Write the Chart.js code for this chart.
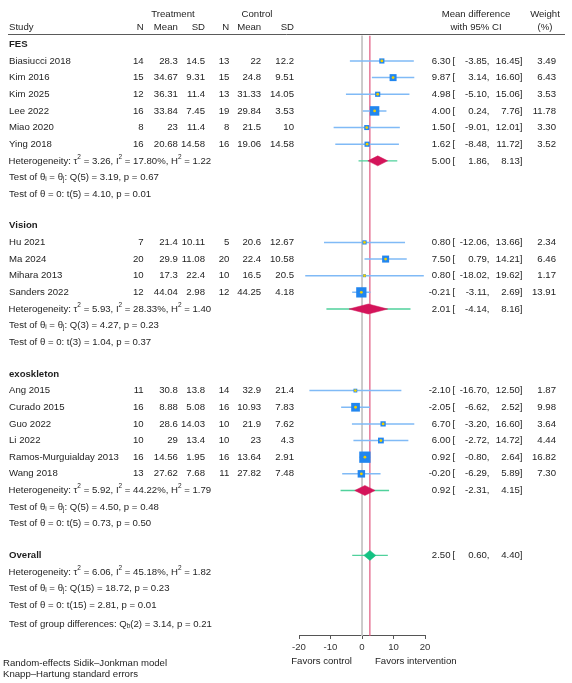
<!DOCTYPE html>
<html><head><meta charset="utf-8">
<script src="https://cdn.jsdelivr.net/npm/chart.js@4.4.1/dist/chart.umd.min.js"></script>
<style>html,body{margin:0;padding:0;background:#fff}canvas{display:block}</style>
</head><body>
<canvas id="c" width="572" height="683"></canvas>
<script>
// ---------- data ----------
const groupNames = ['FES', 'Vision', 'exoskleton'];
const studyGroup = [0,0,0,0,0,0, 1,1,1,1, 2,2,2,2,2,2];
const studies = ['Biasiucci 2018','Kim 2016','Kim 2025','Lee 2022','Miao 2020','Ying 2018',
  'Hu 2021','Ma 2024','Mihara 2013','Sanders 2022',
  'Ang 2015','Curado 2015','Guo 2022','Li 2022','Ramos-Murguialday 2013','Wang 2018'];
const tN    = [14,15,12,16,8,16, 7,20,10,12, 11,16,10,10,16,13];
const tMean = [28.3,34.67,36.31,33.84,23,20.68, 21.4,29.9,17.3,44.04, 30.8,8.88,28.6,29,14.56,27.62];
const tSD   = [14.5,9.31,11.4,7.45,11.4,14.58, 10.11,11.08,22.4,2.98, 13.8,5.08,14.03,13.4,1.95,7.68];
const cN    = [13,15,13,19,8,16, 5,20,10,12, 14,16,10,10,16,11];
const cMean = [22,24.8,31.33,29.84,21.5,19.06, 20.6,22.4,16.5,44.25, 32.9,10.93,21.9,23,13.64,27.82];
const cSD   = [12.2,9.51,14.05,3.53,10,14.58, 12.67,10.58,20.5,4.18, 21.4,7.83,7.62,4.3,2.91,7.48];
const md    = [6.30,9.87,4.98,4.00,1.50,1.62, 0.80,7.50,0.80,-0.21, -2.10,-2.05,6.70,6.00,0.92,-0.20];
const lo    = [-3.85,3.14,-5.10,0.24,-9.01,-8.48, -12.06,0.79,-18.02,-3.11, -16.70,-6.62,-3.20,-2.72,-0.80,-6.29];
const hi    = [16.45,16.60,15.06,7.76,12.01,11.72, 13.66,14.21,19.62,2.69, 12.50,2.52,16.60,14.72,2.64,5.89];
const weight= [3.49,6.43,3.53,11.78,3.30,3.52, 2.34,6.46,1.17,13.91, 1.87,9.98,3.64,4.44,16.82,7.30];

const subMD   = [5.00, 2.01, 0.92];
const subLo   = [1.86, -4.14, -2.31];
const subHi   = [8.13, 8.16, 4.15];
const subPiLo = [-1.1, -11.3, -6.8];
const subPiHi = [11.2, 15.4, 8.6];
const subTau2 = ['3.26','5.93','5.92'];
const subI2   = ['17.80','28.33','44.22'];
const subH2   = ['1.22','1.40','1.79'];
const subQdf  = [5, 3, 5];
const subQ    = ['3.19','4.27','4.50'];
const subQp   = ['0.67','0.23','0.48'];
const subT    = ['4.10','1.04','0.73'];
const subTp   = ['0.01','0.37','0.50'];

const overallMD = 2.50, overallLo = 0.60, overallHi = 4.40;
const overallPiLo = -3.1, overallPiHi = 8.2;
const overallTau2 = '6.06', overallI2 = '45.18', overallH2 = '1.82';
const overallQdf = 15, overallQ = '18.72', overallQp = '0.23';
const overallT = '2.81', overallTp = '0.01';
const groupQdf = 2, groupQ = '3.14', groupQp = '0.21';

const xTicks = [-20, -10, 0, 10, 20];

// ---------- row layout ----------
const ROW0 = 0.62, GAP = 1.9, YMAX = 36.16, DH = 0.3;
let pos = ROW0;
const rowHead = [], rowStudy = [], rowHet = [], rowQ = [], rowT = [];
groupNames.forEach((g, gi) => {
  rowHead[gi] = pos; pos += 1;
  studies.forEach((s, i) => { if (studyGroup[i] === gi) { rowStudy[i] = pos; pos += 1; } });
  rowHet[gi] = pos; pos += 1;
  rowQ[gi] = pos; pos += 1;
  rowT[gi] = pos; pos += GAP;
});
const rowOverall = pos, rowOHet = pos + 1, rowOQ = pos + 2, rowOT = pos + 3, rowGroup = pos + 3 + 1.12;

// ---------- datasets ----------
const ciData = [];
studies.forEach((s, i) => {
  ciData.push({x: lo[i], y: rowStudy[i]}, {x: hi[i], y: rowStudy[i]}, {x: NaN, y: NaN});
});
const piData = [];
groupNames.forEach((g, gi) => {
  piData.push({x: subPiLo[gi], y: rowHet[gi]}, {x: subPiHi[gi], y: rowHet[gi]}, {x: NaN, y: NaN});
});
piData.push({x: overallPiLo, y: rowOverall}, {x: overallPiHi, y: rowOverall});

function diamond(m, l, h, r) {
  return [{x: l, y: r}, {x: m, y: r - DH}, {x: h, y: r}, {x: m, y: r + DH}, {x: l, y: r}];
}
const pts = studies.map((s, i) => ({x: md[i], y: rowStudy[i]}));
const sqRadius = weight.map(w => 1.95 * Math.sqrt(w));

const datasets = [
  {data: [{x: 0, y: 0.1}, {x: 0, y: YMAX}], showLine: true, borderColor: '#c4c4c4', borderWidth: 1, pointRadius: 0, order: 9},
  {data: [{x: overallMD, y: 0.1}, {x: overallMD, y: YMAX}], showLine: true, borderColor: '#e0587f', borderWidth: 1.2, pointRadius: 0, order: 9},
  {data: ciData, showLine: true, spanGaps: false, borderColor: '#80baf6', borderWidth: 1.5, pointRadius: 0, order: 8},
  {data: piData, showLine: true, spanGaps: false, borderColor: '#50d19c', borderWidth: 1.4, pointRadius: 0, order: 7},
];
groupNames.forEach((g, gi) => {
  datasets.push({data: diamond(subMD[gi], subLo[gi], subHi[gi], rowHet[gi]), showLine: true, fill: 'shape',
    backgroundColor: '#d4145a', borderColor: '#d4145a', borderWidth: 0.5, pointRadius: 0, tension: 0, order: 6});
});
datasets.push({data: diamond(overallMD, overallLo, overallHi, rowOverall), showLine: true, fill: 'shape',
  backgroundColor: '#14c283', borderColor: '#14c283', borderWidth: 0.5, pointRadius: 0, tension: 0, order: 6});
datasets.push({data: pts, pointStyle: 'rect', pointRadius: sqRadius, backgroundColor: '#2286ef', borderWidth: 0, order: 5});
datasets.push({data: pts, pointStyle: 'circle', pointRadius: 1.4, backgroundColor: '#f2d000', borderWidth: 0, order: 4});

// ---------- text ----------
const FONT = '"Liberation Sans", Arial, sans-serif';
const FS = 9.6;
const TXT = '#1e1e1e';
function drawRich(ctx, x, y, segs) {
  let cx = x;
  ctx.textAlign = 'left';
  segs.forEach(s => {
    let t = s, mode = 'n';
    if (Array.isArray(s)) { t = s[0]; mode = s[1]; }
    if (mode === 'n') { ctx.font = FS + 'px ' + FONT; ctx.fillText(t, cx, y); }
    else { ctx.font = '6.5px ' + FONT; ctx.fillText(t, cx, y + (mode === 'sup' ? -4 : 2)); }
    cx += ctx.measureText(t).width;
  });
}
const textPlugin = {
  id: 'forestText',
  afterDraw(chart) {
    const ctx = chart.ctx, ys = chart.scales.y, xs = chart.scales.x, ca = chart.chartArea;
    const Y = r => ys.getPixelForValue(r);
    ctx.save();
    ctx.fillStyle = TXT;
    ctx.textBaseline = 'middle';
    const f = (t, x, y, align, bold) => {
      ctx.font = (bold ? 'bold ' : '') + FS + 'px ' + FONT;
      ctx.textAlign = align; ctx.fillText(t, x, y);
    };
    const colX = {tN: 143.7, tMean: 177.8, tSD: 205, cN: 229.3, cMean: 261.2, cSD: 294};
    // header
    const h1 = Y(-1.2), h2 = Y(-0.42);
    f('Treatment', 173, h1, 'center'); f('Control', 257, h1, 'center');
    f('Mean difference', 476, h1, 'center'); f('Weight', 545, h1, 'center');
    f('Study', 9, h2, 'left');
    f('N', colX.tN, h2, 'right'); f('Mean', colX.tMean, h2, 'right'); f('SD', colX.tSD, h2, 'right');
    f('N', colX.cN, h2, 'right'); f('Mean', colX.cMean, h2, 'right'); f('SD', colX.cSD, h2, 'right');
    f('with 95% CI', 476, h2, 'center'); f('(%)', 545, h2, 'center');
    ctx.strokeStyle = '#5a5a5a'; ctx.lineWidth = 1;
    ctx.beginPath(); ctx.moveTo(8, ca.top + 0.5); ctx.lineTo(565, ca.top + 0.5); ctx.stroke();

    const ciText = (m, l, h, y, w) => {
      f(m.toFixed(2), 450.5, y, 'right'); f('[', 452.5, y, 'left');
      f(l.toFixed(2) + ',', 489.5, y, 'right'); f(h.toFixed(2) + ']', 522.5, y, 'right');
      if (w !== undefined) f(w.toFixed(2), 556, y, 'right');
    };
    groupNames.forEach((g, gi) => {
      f(g, 9, Y(rowHead[gi]), 'left', true);
      studies.forEach((s, i) => {
        if (studyGroup[i] !== gi) return;
        const y = Y(rowStudy[i]);
        f(s, 9, y, 'left');
        f(String(tN[i]), colX.tN, y, 'right'); f(String(tMean[i]), colX.tMean, y, 'right'); f(String(tSD[i]), colX.tSD, y, 'right');
        f(String(cN[i]), colX.cN, y, 'right'); f(String(cMean[i]), colX.cMean, y, 'right'); f(String(cSD[i]), colX.cSD, y, 'right');
        ciText(md[i], lo[i], hi[i], y, weight[i]);
      });
      drawRich(ctx, 8.5, Y(rowHet[gi]), ['Heterogeneity: \u03c4', ['2','sup'], ' = ' + subTau2[gi] + ', I', ['2','sup'], ' = ' + subI2[gi] + '%, H', ['2','sup'], ' = ' + subH2[gi]]);
      ciText(subMD[gi], subLo[gi], subHi[gi], Y(rowHet[gi]));
      drawRich(ctx, 9, Y(rowQ[gi]), ['Test of \u03b8', ['i','sub'], ' = \u03b8', ['j','sub'], ': Q(' + subQdf[gi] + ') = ' + subQ[gi] + ', p = ' + subQp[gi]]);
      drawRich(ctx, 9, Y(rowT[gi]), ['Test of \u03b8 = 0: t(' + subQdf[gi] + ') = ' + subT[gi] + ', p = ' + subTp[gi]]);
    });
    f('Overall', 9, Y(rowOverall), 'left', true);
    ciText(overallMD, overallLo, overallHi, Y(rowOverall));
    drawRich(ctx, 8.5, Y(rowOHet), ['Heterogeneity: \u03c4', ['2','sup'], ' = ' + overallTau2 + ', I', ['2','sup'], ' = ' + overallI2 + '%, H', ['2','sup'], ' = ' + overallH2]);
    drawRich(ctx, 9, Y(rowOQ), ['Test of \u03b8', ['i','sub'], ' = \u03b8', ['j','sub'], ': Q(' + overallQdf + ') = ' + overallQ + ', p = ' + overallQp]);
    drawRich(ctx, 9, Y(rowOT), ['Test of \u03b8 = 0: t(' + overallQdf + ') = ' + overallT + ', p = ' + overallTp]);
    drawRich(ctx, 9, Y(rowGroup), ['Test of group differences: Q', ['b','sub'], '(' + groupQdf + ') = ' + groupQ + ', p = ' + groupQp]);

    // axis titles & notes
    const x0 = xs.getPixelForValue(0);
    f('Favors control', x0 - 10, ca.bottom + 25, 'right');
    f('Favors intervention', x0 + 13, ca.bottom + 25, 'left');
    f('Random-effects Sidik\u2013Jonkman model', 3, ca.bottom + 27, 'left');
    f('Knapp\u2013Hartung standard errors', 3, ca.bottom + 38, 'left');
    ctx.restore();
  }
};

new Chart(document.getElementById('c'), {
  type: 'scatter',
  data: {datasets},
  options: {
    responsive: false, animation: false,
    layout: {padding: {left: 299, right: 147, top: 34, bottom: 26.5}},
    plugins: {legend: {display: false}, tooltip: {enabled: false}},
    scales: {
      x: {type: 'linear', min: -20, max: 20, afterBuildTicks: s => { s.ticks = xTicks.map(v => ({value: v})); },
        ticks: {color: '#333', font: {size: FS, family: FONT}, padding: 3, maxRotation: 0},
        grid: {display: true, drawOnChartArea: false, tickLength: 3, color: '#555'},
        border: {display: true, color: '#555', width: 1}},
      y: {type: 'linear', display: false, reverse: true, min: 0, max: YMAX}
    }
  },
  plugins: [textPlugin]
});
</script>
</body></html>
